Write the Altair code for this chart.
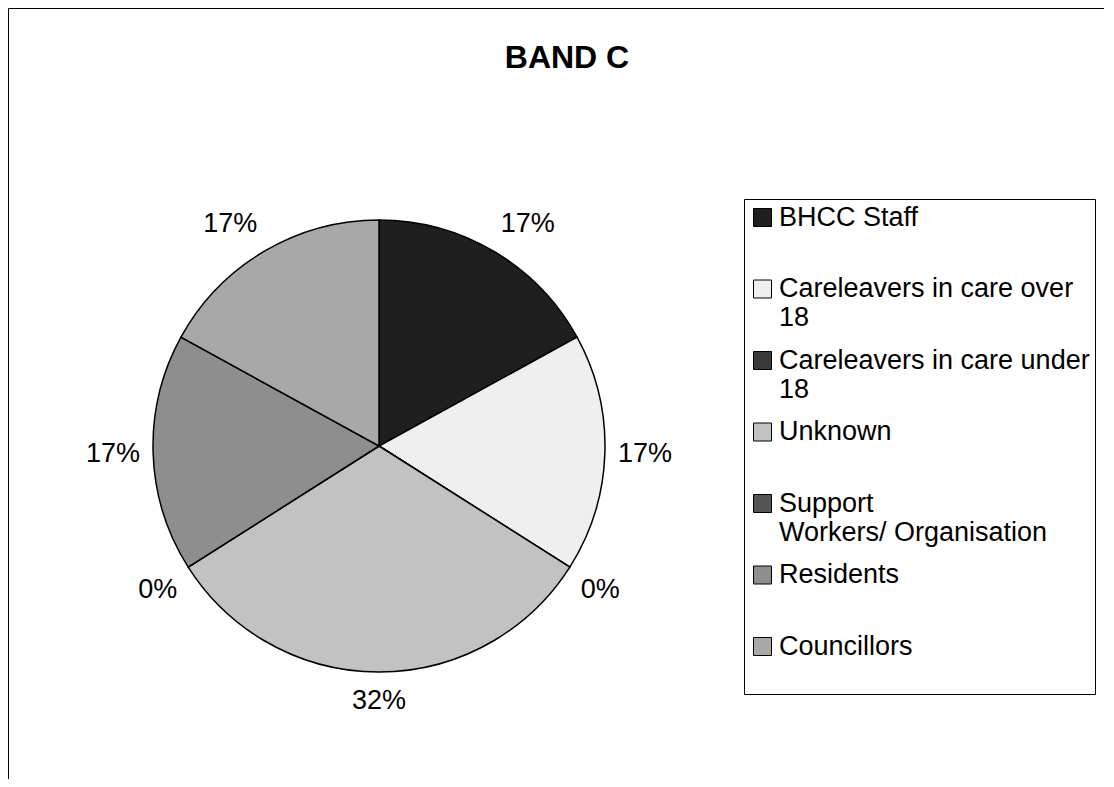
import altair as alt
import pandas as pd

title_text = "BAND C"
categories = [
    "BHCC Staff",
    "Careleavers in care over 18",
    "Careleavers in care under 18",
    "Unknown",
    "Support Workers/ Organisation",
    "Residents",
    "Councillors",
]
percent_values = [17, 17, 0, 32, 0, 17, 17]
legend_first_lines = [
    "BHCC Staff",
    "Careleavers in care over",
    "Careleavers in care under",
    "Unknown",
    "Support",
    "Residents",
    "Councillors",
]
legend_second_lines = ["", "18", "18", "", "Workers/ Organisation", "", ""]
fill_greys = ["#1f1f1f", "#efefef", "#3a3a3a", "#c2c2c2", "#555555", "#8e8e8e", "#a8a8a8"]

FONT = "Liberation Sans"
FS = 27
CX, CY, R = 371, 438, 226
RL = 239

df = pd.DataFrame({
    "category": categories,
    "value": percent_values,
    "idx": list(range(len(categories))),
})

parts = []
for c, a, b in zip(categories, legend_first_lines, legend_second_lines):
    parts.append(f"datum.label === '{c}' ? ['{a}', '{b}'] : ")
label_expr = "".join(parts) + "datum.label"

base = alt.Chart(df)

pie = base.mark_arc(outerRadius=R, stroke="black", strokeWidth=1.5).encode(
    theta=alt.Theta("value:Q", stack=True),
    order=alt.Order("idx:Q"),
    color=alt.Color(
        "category:N",
        scale=alt.Scale(domain=categories, range=fill_greys),
        legend=alt.Legend(
            title=None,
            orient="none",
            legendX=736,
            legendY=191,
            direction="vertical",
            symbolType="square",
            symbolSize=324,
            symbolStrokeColor="black",
            symbolStrokeWidth=1,
            symbolOpacity=1,
            labelFont=FONT,
            labelFontSize=FS,
            labelColor="black",
            labelLimit=600,
            labelOffset=3,
            labelExpr=label_expr,
            labelBaseline="middle",
            rowPadding=14.5,
            padding=5,
            strokeColor="black",
            fillColor="white",
        ),
    ),
    x=alt.value(CX),
    y=alt.value(CY),
)

labels = base.transform_joinaggregate(
    total="sum(value)"
).transform_window(
    cum="sum(value)", sort=[alt.SortField("idx")], frame=[None, 0]
).transform_calculate(
    mid="2*PI*(datum.cum - datum.value/2)/datum.total",
    lab="format(datum.value, 'd') + '%'",
    w=f"{FS}*(0.556*(length(datum.lab)-1)+0.889)",
    sx="sin(datum.mid) > 0.05 ? 1 : (sin(datum.mid) < -0.05 ? -1 : 0)",
    sy="cos(datum.mid) > 0.05 ? -1 : (cos(datum.mid) < -0.05 ? 1 : 0)",
    px=f"{RL}*sin(datum.mid) + datum.sx*datum.w/2",
    py=f"-{RL}*cos(datum.mid) + datum.sy*16",
    lr="sqrt(datum.px*datum.px + datum.py*datum.py)",
    lt="atan2(datum.px, -datum.py)",
).mark_text(font=FONT, fontSize=FS, align="center", baseline="middle", color="black").encode(
    theta=alt.Theta("lt:Q", scale=None, stack=None),
    radius=alt.Radius("lr:Q", scale=None),
    text="lab:N",
    x=alt.value(CX),
    y=alt.value(CY),
)

chart = alt.layer(pie, labels).properties(
    width=1118,
    height=790,
    padding={"left": 0, "top": 0, "right": -22, "bottom": -19},
    autosize=alt.AutoSizeParams(type="none"),
    title=alt.TitleParams(
        title_text,
        font=FONT,
        fontSize=32,
        fontWeight="bold",
        color="black",
        anchor="middle",
        offset=-92,
        baseline="alphabetic",
    ),
).configure_view(stroke="black", strokeWidth=1)

chart.save("out.html", embed_options={"renderer": "svg", "actions": False})
